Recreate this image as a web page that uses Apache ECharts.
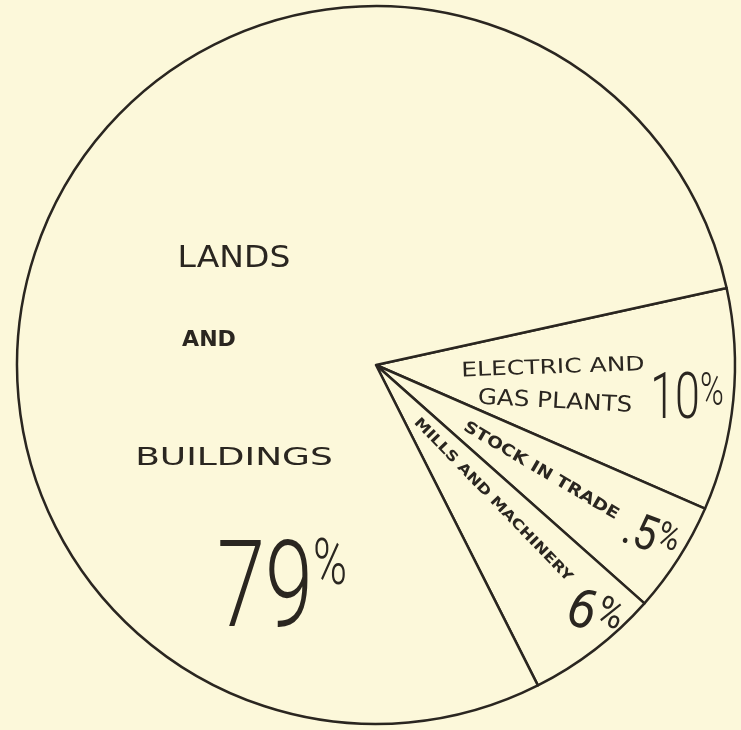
<!DOCTYPE html>
<html>
<head>
<meta charset="utf-8">
<script src="https://cdn.jsdelivr.net/npm/echarts@6/dist/echarts.min.js"></script>
<style>
html,body{margin:0;padding:0;background:#fcf8da;}
#chart{width:741px;height:730px;}
</style>
</head>
<body>
<div id="chart"></div>
<script>
// Data
var categories = ['ELECTRIC AND GAS PLANTS', 'STOCK IN TRADE', 'MILLS AND MACHINERY', 'LANDS AND BUILDINGS'];
var values = [10, 5, 6, 79];

var INK = '#2a2620';
var BG = '#fcf8da';
var FONT = 'DejaVu Sans';
var NUMFONT = 'Roboto';
var deg = Math.PI / 180;

function pctText(v) {
  return '{a|' + v + '}{b|%}';
}

var chart = echarts.init(document.getElementById('chart'), null, {renderer: 'canvas'});

function txt(x, y, text, size, opts) {
  opts = opts || {};
  return {
    type: 'text',
    x: x, y: y,
    z: 100,
    rotation: (opts.rot || 0) * deg,
    scaleX: opts.sx || 1,
    scaleY: opts.sy || 1,
    silent: true,
    style: {
      text: text,
      fill: INK,
      fontFamily: opts.family || FONT,
      fontSize: size,
      fontWeight: opts.weight || 'normal',
      align: 'center',
      verticalAlign: 'middle',
      rich: opts.rich
    }
  };
}

function richPct(big, small, weight) {
  return {
    a: {fontSize: big, fontFamily: NUMFONT, fontWeight: weight, fill: INK, lineHeight: big},
    b: {fontSize: small, fontFamily: NUMFONT, fontWeight: weight, fill: INK, verticalAlign: 'top', lineHeight: big}
  };
}

var pieData = categories.map(function (c, i) { return {name: c, value: values[i]}; });

var option = {
  backgroundColor: BG,
  animation: false,
  series: [{
    type: 'pie',
    z: 1,
    center: [376, 365],
    radius: [0, 359],
    startAngle: 12.4,
    clockwise: true,
    avoidLabelOverlap: false,
    label: {show: false},
    labelLine: {show: false},
    emphasis: {disabled: true},
    silent: true,
    itemStyle: {color: BG, borderColor: INK, borderWidth: 2.5},
    data: pieData
  }],
  graphic: {
    elements: [
      // LANDS AND BUILDINGS
      txt(234, 259, 'LANDS', 30, {sx: 1.1}),
      txt(209, 341, 'AND', 21, {weight: 'bold', sx: 1.05}),
      txt(234, 459, 'BUILDINGS', 24, {sx: 1.5}),
      txt(282, 596, pctText(values[3]), 120, {family: NUMFONT, sx: 0.72, rich: richPct(120, 64, 300)}),
      // ELECTRIC AND GAS PLANTS
      txt(553, 368, 'ELECTRIC AND', 20, {sx: 1.25, rot: 2, weight: 500}),
      txt(555, 402, 'GAS PLANTS', 22, {sx: 1.12, rot: -3, weight: 500}),
      txt(687, 402, pctText(values[0]), 64, {family: NUMFONT, sx: 0.7, rich: richPct(64, 46, 300)}),
      // STOCK IN TRADE
      txt(541, 471, 'STOCK IN TRADE', 16, {sx: 1.18, rot: -30.5, weight: 'bold'}),
      txt(650, 539, '.' + pctText(values[1]), 48, {family: NUMFONT, sx: 0.85, rot: -20, rich: richPct(48, 36, 400)}),
      // MILLS AND MACHINERY
      txt(493, 500, 'MILLS AND MACHINERY', 14, {sx: 1.2, rot: -46, weight: 'bold'}),
      txt(593, 618, pctText(values[2]), 56, {family: NUMFONT, sx: 0.9, rot: -22, rich: richPct(56, 40, 400)})
    ]
  }
};
chart.setOption(option);
</script>
</body>
</html>
